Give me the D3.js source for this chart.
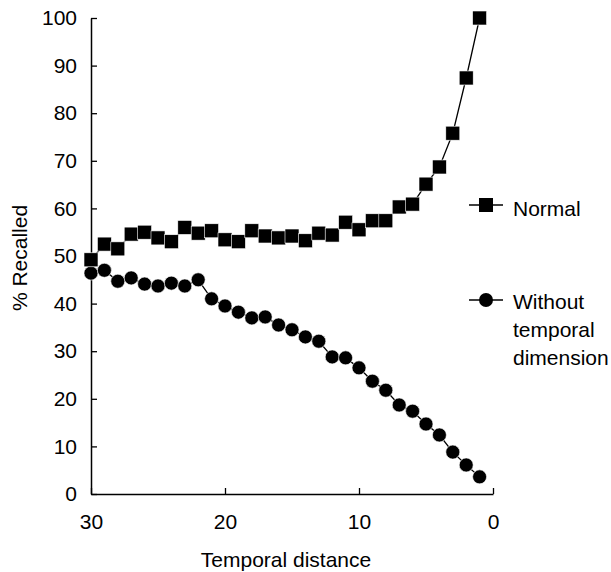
<!DOCTYPE html>
<html>
<head>
<meta charset="utf-8">
<script src="https://cdn.jsdelivr.net/npm/d3@7"></script>
<style>
  body { margin: 0; background: #fff; }
  svg { display: block; font-family: "Liberation Sans", Arial, Helvetica, sans-serif; }
</style>
</head>
<body>
<svg id="chart" width="611" height="572"></svg>
<script>
// Temporal distance (x) for each measurement
const distances = [30,29,28,27,26,25,24,23,22,21,20,19,18,17,16,15,14,13,12,11,10,9,8,7,6,5,4,3,2,1];
// % recalled, normal condition
const normalValues = [49.2,52.5,51.5,54.6,55.0,53.8,53.0,56.0,54.8,55.3,53.4,53.0,55.3,54.2,53.8,54.2,53.2,54.8,54.4,57.1,55.5,57.4,57.4,60.3,60.9,65.1,68.7,75.8,87.4,100];
// % recalled, without temporal dimension
const withoutValues = [46.4,47.0,44.7,45.4,44.1,43.7,44.3,43.7,45.0,41.0,39.5,38.2,37.0,37.2,35.5,34.5,33.0,32.1,28.8,28.6,26.5,23.7,21.8,18.7,17.4,14.7,12.4,8.8,6.1,3.6];
const xTicks = [30,20,10,0];
const yTicks = [0,10,20,30,40,50,60,70,80,90,100];

const svg = d3.select("#chart");
const plotLeft = 91, plotRight = 493, plotTop = 18, plotBottom = 494;
const fs = 21;

const x = d3.scaleLinear().domain([30, 0]).range([plotLeft, plotRight]);
const y = d3.scaleLinear().domain([0, 100]).range([plotBottom, plotTop]);

// y axis: ticks pointing inward
const yAxis = svg.append("g").attr("transform", `translate(${plotLeft},0)`)
  .call(d3.axisLeft(y).tickValues(yTicks).tickSize(-6).tickPadding(14).tickSizeOuter(0));
// x axis: ticks pointing upward
const xAxis = svg.append("g").attr("transform", `translate(0,${plotBottom})`)
  .call(d3.axisBottom(x).tickValues(xTicks).tickSize(-6).tickPadding(20).tickSizeOuter(0));

[yAxis, xAxis].forEach(g => {
  g.select(".domain").attr("stroke", "#000").attr("stroke-width", 1.5);
  g.selectAll(".tick line").attr("stroke", "#000").attr("stroke-width", 1.3);
  g.selectAll(".tick text").attr("fill", "#000").attr("font-size", fs)
    .attr("font-family", "Liberation Sans, Arial, sans-serif");
});
xAxis.selectAll(".tick text").attr("dy", "0.71em");

// axis titles
svg.append("text").attr("x", 286).attr("y", 567).attr("text-anchor", "middle")
  .attr("font-size", fs).text("Temporal distance");
svg.append("text").attr("transform", "translate(27,258) rotate(-90)")
  .attr("text-anchor", "middle").attr("font-size", fs).text("% Recalled");

const line = d3.line().x(d => x(d[0])).y(d => y(d[1]));
const normal = distances.map((d, i) => [d, normalValues[i]]);
const without = distances.map((d, i) => [d, withoutValues[i]]);

// Without temporal dimension series
svg.append("path").datum(without).attr("d", line)
  .attr("fill", "none").attr("stroke", "#000").attr("stroke-width", 1.3);
svg.append("g").selectAll("circle").data(without).join("circle")
  .attr("cx", d => x(d[0])).attr("cy", d => y(d[1])).attr("r", 7)
  .attr("fill", "#000").attr("stroke", "#fff").attr("stroke-width", 0.6);

// Normal series
svg.append("path").datum(normal).attr("d", line)
  .attr("fill", "none").attr("stroke", "#000").attr("stroke-width", 1.3);
const sq = 14;
svg.append("g").selectAll("rect").data(normal).join("rect")
  .attr("x", d => x(d[0]) - sq / 2).attr("y", d => y(d[1]) - sq / 2)
  .attr("width", sq).attr("height", sq)
  .attr("fill", "#000").attr("stroke", "#fff").attr("stroke-width", 0.6);

// legend
const legend = svg.append("g");
legend.append("line").attr("x1", 469).attr("x2", 503).attr("y1", 205).attr("y2", 205)
  .attr("stroke", "#000").attr("stroke-width", 1.3);
legend.append("rect").attr("x", 486 - sq / 2).attr("y", 205 - sq / 2)
  .attr("width", sq).attr("height", sq).attr("fill", "#000");
legend.append("text").attr("x", 513).attr("y", 216).attr("font-size", fs).text("Normal");

legend.append("line").attr("x1", 469).attr("x2", 503).attr("y1", 300).attr("y2", 300)
  .attr("stroke", "#000").attr("stroke-width", 1.3);
legend.append("circle").attr("cx", 486).attr("cy", 300).attr("r", 7).attr("fill", "#000");
const lt = legend.append("text").attr("font-size", fs);
["Without", "temporal", "dimension"].forEach((t, i) =>
  lt.append("tspan").attr("x", 513).attr("y", 309 + i * 28).text(t));
</script>
</body>
</html>
